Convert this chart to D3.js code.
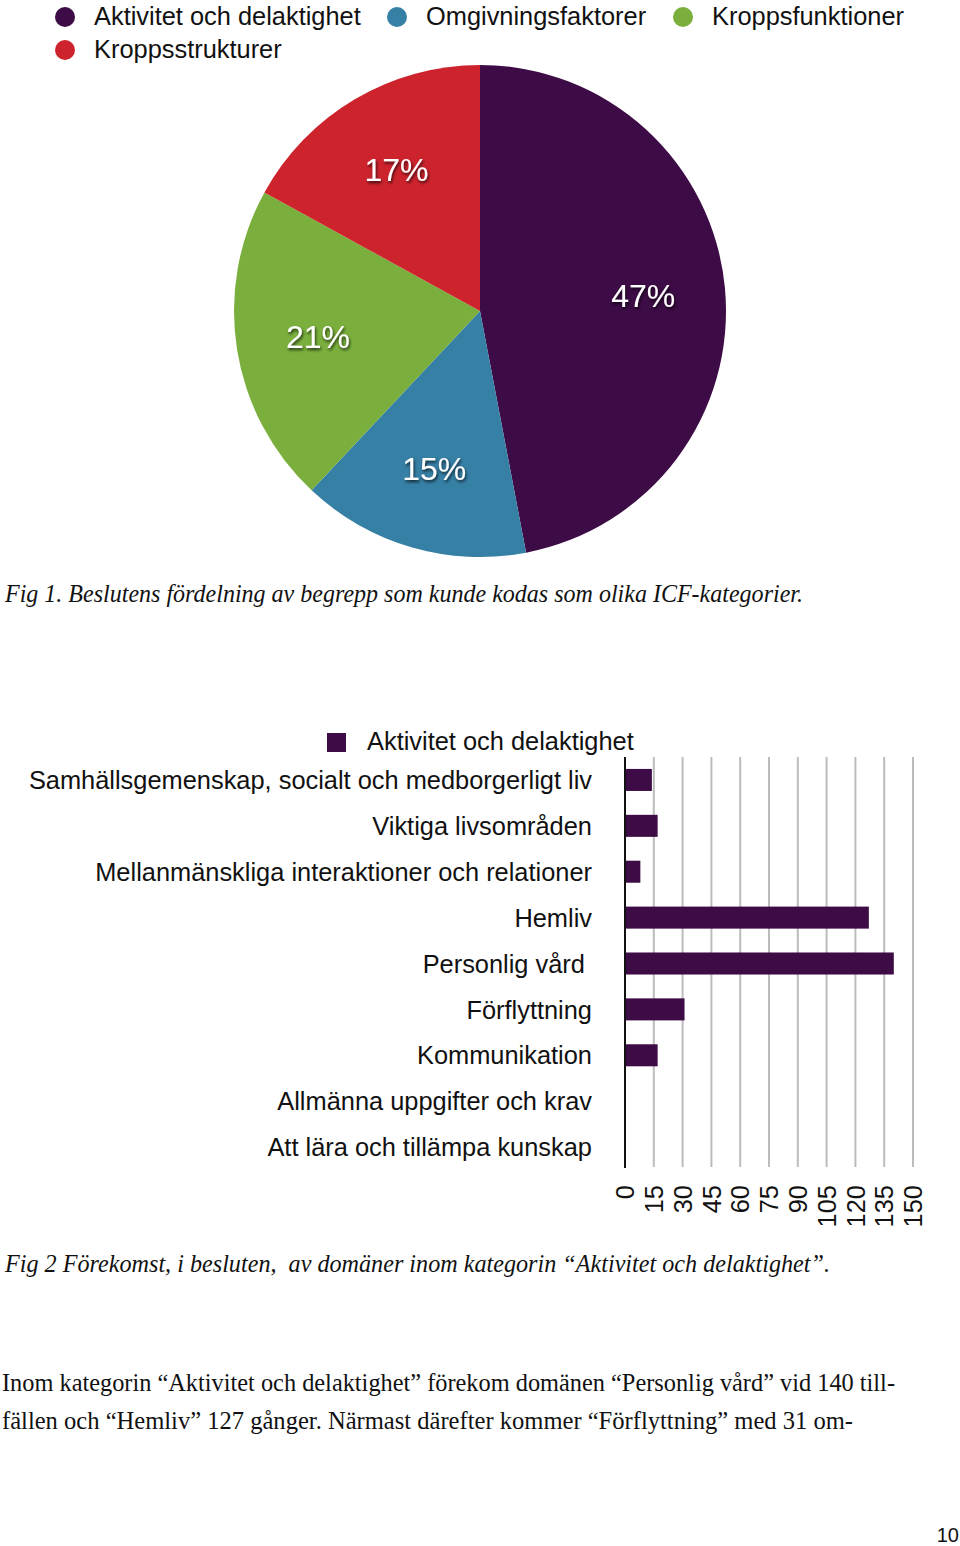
<!DOCTYPE html>
<html>
<head>
<meta charset="utf-8">
<script src="https://cdn.jsdelivr.net/npm/d3@7"></script>
<style>
  html, body { margin: 0; padding: 0; background: #fff; }
  svg { display: block; }
</style>
</head>
<body>
<div id="chart"></div>
<script>
// pie data
var pieCategories = ["Aktivitet och delaktighet", "Omgivningsfaktorer", "Kroppsfunktioner", "Kroppsstrukturer"];
var pieValues = [47, 15, 21, 17];
var pieColors = ["#3d0b45", "#367fa5", "#7aaf3d", "#cd232d"];

// bar data
var barCategories = [
  "Samhällsgemenskap, socialt och medborgerligt liv",
  "Viktiga livsområden",
  "Mellanmänskliga interaktioner och relationer",
  "Hemliv",
  "Personlig vård ",
  "Förflyttning",
  "Kommunikation",
  "Allmänna uppgifter och krav",
  "Att lära och tillämpa kunskap"
];
var barValues = [14, 17, 8, 127, 140, 31, 17, 0, 0];
var xTicks = [0, 15, 30, 45, 60, 75, 90, 105, 120, 135, 150];
var barSeries = "Aktivitet och delaktighet";

var width = 960, height = 1546;
var sans = "'Liberation Sans', Arimo, Helvetica, Arial, sans-serif";
var serif = "'Liberation Serif', 'DejaVu Serif', serif";
var fs = "25.4px";

var svg = d3.select("#chart").append("svg")
  .attr("width", width)
  .attr("height", height);

var defs = svg.append("defs");
defs.append("filter").attr("id", "shadow")
  .attr("x", "-20%").attr("y", "-20%").attr("width", "140%").attr("height", "160%")
  .append("feDropShadow")
  .attr("dx", 1).attr("dy", 2).attr("stdDeviation", 1.5)
  .attr("flood-color", "#000").attr("flood-opacity", 0.75);

// ---- top legend
var legendPos = [[65, 17], [397, 17], [683, 17], [65, 50]];
var legend = svg.append("g").selectAll("g")
  .data(pieCategories)
  .enter().append("g")
  .attr("transform", function (d, i) { return "translate(" + legendPos[i][0] + "," + legendPos[i][1] + ")"; });
legend.append("circle").attr("r", 10).attr("fill", function (d, i) { return pieColors[i]; });
legend.append("text")
  .attr("x", 29).attr("y", 8)
  .style("font-family", sans).style("font-size", fs).attr("fill", "#111")
  .text(function (d) { return d; });

// ---- pie
var radius = 246;
var pieG = svg.append("g").attr("transform", "translate(480,311)");
var pie = d3.pie().sort(null).value(function (d) { return d; });
var arc = d3.arc().innerRadius(0).outerRadius(radius);
var labelArc = d3.arc().innerRadius(164).outerRadius(164);
var arcs = pie(pieValues);

pieG.selectAll("path")
  .data(arcs)
  .enter().append("path")
  .attr("d", arc)
  .attr("fill", function (d, i) { return pieColors[i]; });

pieG.selectAll("text")
  .data(arcs)
  .enter().append("text")
  .attr("transform", function (d) { return "translate(" + labelArc.centroid(d) + ")"; })
  .attr("text-anchor", "middle")
  .attr("dy", "0.36em")
  .attr("fill", "#fff")
  .attr("filter", "url(#shadow)")
  .style("font-family", sans).style("font-size", "32px")
  .text(function (d) { return d.data + "%"; });

svg.append("text")
  .attr("x", 5).attr("y", 602)
  .attr("textLength", 798).attr("lengthAdjust", "spacingAndGlyphs")
  .style("font-family", serif).style("font-style", "italic").style("font-size", "25px")
  .attr("fill", "#111")
  .text("Fig 1. Beslutens fördelning av begrepp som kunde kodas som olika ICF-kategorier.");

// ---- bar chart
var x = d3.scaleLinear().domain([0, 150]).range([625, 913]);
var y = d3.scaleBand().domain(barCategories).range([757, 1170])
  .paddingInner(0.52).paddingOuter(0.26);

var barG = svg.append("g");

barG.append("g").selectAll("line")
  .data(xTicks.slice(1))
  .enter().append("line")
  .attr("x1", function (d) { return x(d); }).attr("x2", function (d) { return x(d); })
  .attr("y1", 757).attr("y2", 1167)
  .attr("stroke", "#bcbcbc").attr("stroke-width", 2);

barG.append("g").selectAll("rect")
  .data(barValues)
  .enter().append("rect")
  .attr("x", x(0))
  .attr("y", function (d, i) { return y(barCategories[i]); })
  .attr("width", function (d) { return x(d) - x(0); })
  .attr("height", y.bandwidth())
  .attr("fill", "#3d0b45");

barG.append("line")
  .attr("x1", x(0)).attr("x2", x(0))
  .attr("y1", 757).attr("y2", 1168)
  .attr("stroke", "#111").attr("stroke-width", 2);

barG.append("g").selectAll("text")
  .data(barCategories)
  .enter().append("text")
  .attr("x", 592)
  .attr("y", function (d) { return y(d) + y.bandwidth() / 2; })
  .attr("dy", "0.36em")
  .attr("text-anchor", "end")
  .style("white-space", "pre")
  .style("font-family", sans).style("font-size", fs).attr("fill", "#111")
  .text(function (d) { return d; });

barG.append("g").selectAll("text")
  .data(xTicks)
  .enter().append("text")
  .attr("transform", function (d) { return "translate(" + x(d) + ",1185) rotate(-90)"; })
  .attr("text-anchor", "end")
  .attr("dy", "0.36em")
  .style("font-family", sans).style("font-size", fs).attr("fill", "#111")
  .text(function (d) { return d; });

var barLegend = barG.append("g").attr("transform", "translate(327,733)");
barLegend.append("rect").attr("width", 19).attr("height", 19).attr("fill", "#3d0b45");
barLegend.append("text")
  .attr("x", 40).attr("y", 17)
  .style("font-family", sans).style("font-size", fs).attr("fill", "#111")
  .text(barSeries);

svg.append("text")
  .attr("x", 5).attr("y", 1272)
  .attr("textLength", 825).attr("lengthAdjust", "spacingAndGlyphs")
  .style("font-family", serif).style("font-style", "italic").style("font-size", "25px")
  .style("white-space", "pre")
  .attr("fill", "#111")
  .text("Fig 2 Förekomst, i besluten,  av domäner inom kategorin “Aktivitet och delaktighet”.");

// ---- body text
var bodyLines = [
  ["Inom kategorin “Aktivitet och delaktighet” förekom domänen “Personlig vård” vid 140 till-", 1391, 893],
  ["fällen och “Hemliv” 127 gånger. Närmast därefter kommer “Förflyttning” med 31 om-", 1429, 851]
];
svg.append("g").selectAll("text")
  .data(bodyLines)
  .enter().append("text")
  .attr("x", 2).attr("y", function (d) { return d[1]; })
  .attr("textLength", function (d) { return d[2]; }).attr("lengthAdjust", "spacingAndGlyphs")
  .style("font-family", serif).style("font-size", "25px").attr("fill", "#111")
  .text(function (d) { return d[0]; });

svg.append("text")
  .attr("x", 959).attr("y", 1542)
  .attr("text-anchor", "end")
  .style("font-family", sans).style("font-size", "20px").attr("fill", "#111")
  .text("10");
</script>
</body>
</html>
